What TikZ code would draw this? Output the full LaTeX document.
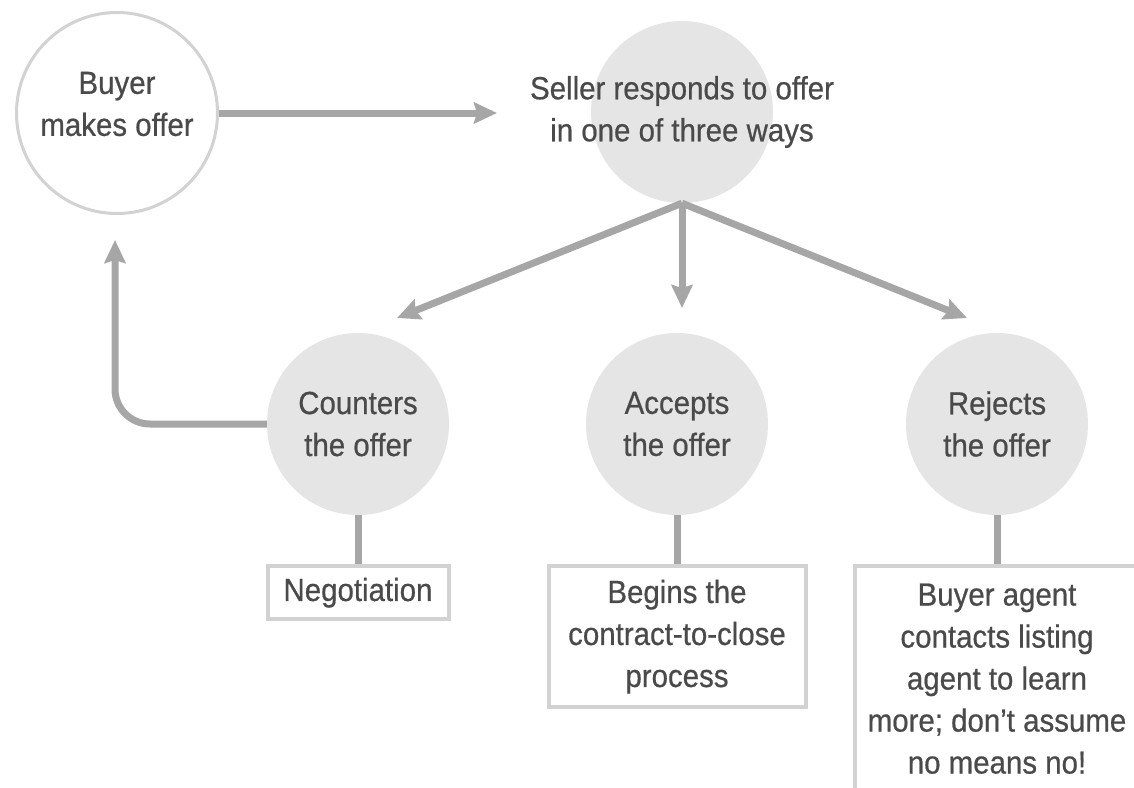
\documentclass[tikz,border=0pt]{standalone}
\usepackage{fontspec}
\setmainfont{Liberation Sans}[FakeStretch=0.92, FakeBold=0.6]
\usetikzlibrary{positioning,arrows.meta}
\definecolor{circlegray}{HTML}{E5E5E5}
\definecolor{linegray}{HTML}{D2D2D2}
\definecolor{arrowgray}{HTML}{A6A6A6}
\definecolor{textgray}{HTML}{4A4A4A}
\newcommand{\offerfont}{\fontsize{32pt}{42pt}\selectfont}
\tikzset{
  round step/.style={
    circle,
    fill=circlegray,
    minimum size=182pt,
    inner sep=0pt,
    text=textgray,
    font=\offerfont,
    align=center,
  },
  open step/.style={
    circle,
    draw=linegray,
    line width=3pt,
    fill=white,
    minimum size=201pt,
    inner sep=0pt,
  },
  step text/.style={
    text=textgray,
    font=\offerfont,
    align=center,
  },
  outcome box/.style={
    draw=linegray,
    line width=4pt,
    fill=white,
    text=textgray,
    font=\offerfont,
    align=center,
    inner sep=2pt,
    minimum width={#1},
  },
  flow/.style={
    draw=arrowgray,
    line width=7pt,
    -{Stealth[length=23pt,width=21pt,inset=3pt]},
  },
  link/.style={
    draw=arrowgray,
    line width=7pt,
  }
}

\begin{document}
\begin{tikzpicture}[x=1pt, y=-1pt]
        \fill [white] (0,0) rectangle (1134,787);
        \useasboundingbox (0,0) rectangle (1134,787);

        \node [open step, label={[step text, yshift=9pt]center:Buyer\\makes offer}] (buyer) at (117,113) {};
        \node [round step, label={[step text]center:Seller responds to offer\\in one of three ways}] (seller) at (682,112) {};

        \node [round step] (counters) at (358,424) {Counters\\the offer};
        \node [round step] (accepts) at (677,424) {Accepts\\the offer};
        \node [round step] (rejects) at (997,424) {Rejects\\the offer};

        \node [outcome box=181pt, minimum height=53pt, below=49pt of counters] (negotiation) {Negotiation};
        \node [outcome box=257pt, minimum height=141pt, below=49pt of accepts] (contract) {Begins the\\contract-to-close\\process};
        \node [outcome box=284pt, minimum height=225pt, below=49pt of rejects] (followup) {Buyer agent\\contacts listing\\agent to learn\\more; don’t assume\\no means no!};

        \coordinate (offer tip) at (497,113);
        \coordinate (counter tip) at (397,318);
        \coordinate (accept tip) at (682,308);
        \coordinate (reject tip) at (967,318);
        \coordinate (return tip) at (115,240);

        \draw [flow] (buyer) -- (offer tip);
        \draw [flow] (seller.south) -- (counter tip);
        \draw [flow] (seller.south) -- (accept tip);
        \draw [flow] (seller.south) -- (reject tip);
        \draw [flow, rounded corners=35pt] (counters.west) -| (return tip);

        \draw [link] (counters) -- (negotiation);
        \draw [link] (accepts) -- (contract);
        \draw [link] (rejects) -- (followup);
      \end{tikzpicture}
\end{document}
